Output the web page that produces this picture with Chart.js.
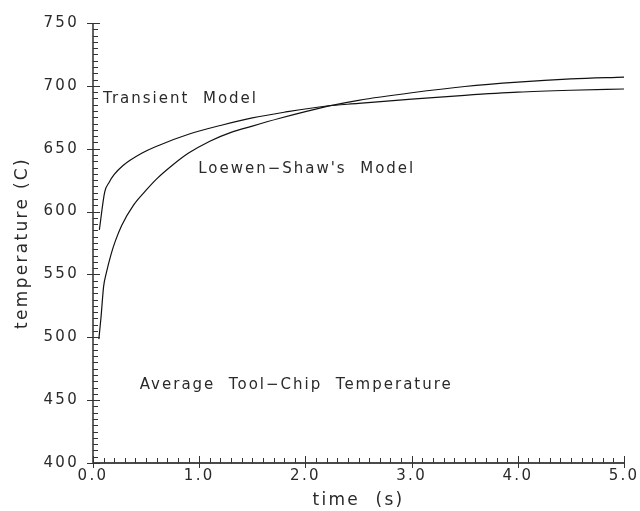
<!DOCTYPE html>
<html>
<head>
<meta charset="utf-8">
<script src="https://cdn.jsdelivr.net/npm/chart.js@4/dist/chart.umd.min.js"></script>
<style>
  html, body { margin: 0; padding: 0; background: #fff; }
  #wrap { width: 640px; height: 511px; }
</style>
</head>
<body>
<div id="wrap"><canvas id="c" width="640" height="511"></canvas></div>
<script>
// time (s) and temperature (C)
const transientTime = [0.06, 0.11, 0.15, 0.2, 0.28, 0.45, 0.63, 0.9, 1.2, 1.5, 1.8, 2.2, 2.5, 3.0, 3.5, 4.0, 4.5, 5.0];
const transientTemp = [585.5, 615.5, 623, 629.5, 636.5, 646, 653, 661.5, 668.5, 674.5, 679, 684, 686, 689.5, 692.5, 695, 696.5, 697.5];
const loewenTime = [0.055, 0.075, 0.1, 0.125, 0.17, 0.21, 0.27, 0.38, 0.5, 0.6, 0.75, 0.9, 1.1, 1.3, 1.5, 1.75, 2.0, 2.25, 2.5, 3.0, 3.5, 4.0, 4.5, 5.0];
const loewenTemp = [498.5, 515.5, 540.5, 551, 566, 576.5, 589, 605, 617, 626, 637, 646.5, 656, 663, 668, 674, 679.5, 684.5, 688.5, 694.5, 699.5, 703, 705.5, 707];
const seriesNames = ["Transient Model", "Loewen-Shaw's Model"];
const noteTexts = ["Transient  Model", "Loewen\u2212Shaw's  Model", "Average  Tool\u2212Chip  Temperature"];
const xTitle = "time  (s)";
const yTitle = "temperature (C)";

const FONT = "'DejaVu Sans', sans-serif";
const INK = '#2a2a2a';

function pts(xs, ys) { return xs.map((x, i) => ({ x: x, y: ys[i] })); }

const axisPlugin = {
  id: 'axisPlugin',
  beforeDraw(chart) {
    chart.ctx.letterSpacing = '2.3px';
  },
  afterDraw(chart) {
    const ctx = chart.ctx;
    const xs = chart.scales.x, ys = chart.scales.y;
    const ca = chart.chartArea;
    ctx.save();
    ctx.strokeStyle = '#111';
    ctx.lineWidth = 1.3;
    ctx.beginPath();
    ctx.moveTo(ca.left, ca.top);
    ctx.lineTo(ca.left, ca.bottom);
    ctx.lineTo(ca.right, ca.bottom);
    ctx.stroke();
    ctx.lineWidth = 1;
    ctx.strokeStyle = '#333';
    ctx.beginPath();
    // y ticks: minor every 5, major every 50
    for (let i = 0; i <= 70; i++) {
      const v = 400 + i * 5;
      const p = Math.round(ys.getPixelForValue(v)) + 0.5;
      if (i % 10 === 0) { ctx.moveTo(ca.left - 6, p); ctx.lineTo(ca.left + 7, p); }
      else { ctx.moveTo(ca.left, p); ctx.lineTo(ca.left + 5, p); }
    }
    // x ticks: minor every 0.1, major every 1.0
    for (let i = 0; i <= 50; i++) {
      const v = i / 10;
      const p = Math.round(xs.getPixelForValue(v)) + 0.5;
      if (i % 10 === 0) { ctx.moveTo(p, ca.bottom + 5); ctx.lineTo(p, ca.bottom - 7); }
      else { ctx.moveTo(p, ca.bottom); ctx.lineTo(p, ca.bottom - 5); }
    }
    ctx.stroke();
    // annotations
    ctx.fillStyle = INK;
    ctx.font = '15px ' + FONT;
    ctx.letterSpacing = '2px';
    ctx.textBaseline = 'middle';
    ctx.textAlign = 'left';
    const notes = [[0.094, 689.2], [0.99, 633.9], [0.44, 461.6]];
    notes.forEach((n, i) => {
      ctx.fillText(noteTexts[i], xs.getPixelForValue(n[0]), ys.getPixelForValue(n[1]));
    });
    ctx.restore();
  }
};

new Chart(document.getElementById('c'), {
  type: 'scatter',
  data: {
    datasets: [
      { label: seriesNames[0], data: pts(transientTime, transientTemp), showLine: true, borderColor: '#111', borderWidth: 1.2, pointRadius: 0, cubicInterpolationMode: 'monotone' },
      { label: seriesNames[1], data: pts(loewenTime, loewenTemp), showLine: true, borderColor: '#111', borderWidth: 1.2, pointRadius: 0, cubicInterpolationMode: 'monotone' }
    ]
  },
  options: {
    responsive: false,
    animation: false,
    events: [],
    layout: { padding: { left: 0, right: 15, top: 20, bottom: 0 } },
    plugins: { legend: { display: false }, tooltip: { enabled: false } },
    scales: {
      x: {
        type: 'linear', min: 0, max: 5,
        border: { display: false },
        grid: { display: false, drawTicks: false },
        ticks: { stepSize: 1, padding: 4, color: INK, font: { family: FONT, size: 15 }, maxRotation: 0,
                 callback: v => v.toFixed(1) },
        title: { display: true, text: xTitle, color: INK, font: { family: FONT, size: 17 }, padding: { top: 0, bottom: 0 } },
        afterFit: s => { s.height = 48; }
      },
      y: {
        type: 'linear', min: 400, max: 750,
        border: { display: false },
        grid: { display: false, drawTicks: false },
        ticks: { stepSize: 50, padding: 14, color: INK, font: { family: FONT, size: 15 } },
        title: { display: true, text: yTitle, color: INK, font: { family: FONT, size: 17 }, padding: { top: 12, bottom: 0 } },
        afterFit: s => { s.width = 93; }
      }
    }
  },
  plugins: [axisPlugin]
});
</script>
</body>
</html>
